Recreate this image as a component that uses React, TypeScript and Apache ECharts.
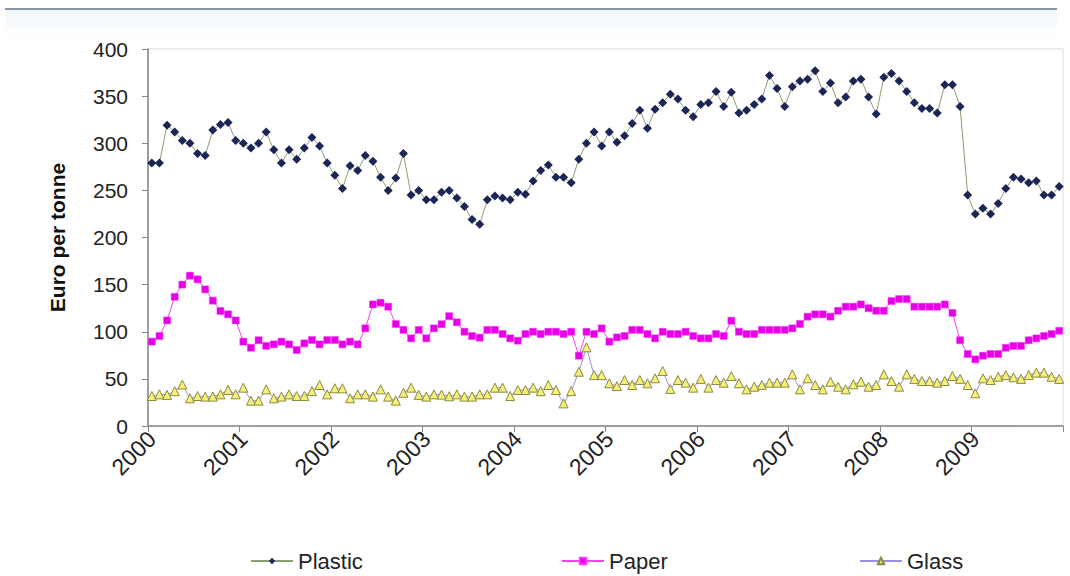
import React, { useEffect, useRef } from "react";
import * as echarts from "echarts";

const years = ["2000", "2001", "2002", "2003", "2004", "2005", "2006", "2007", "2008", "2009"];
const months = ["01", "02", "03", "04", "05", "06", "07", "08", "09", "10", "11", "12"];
const yTicks = [0, 50, 100, 150, 200, 250, 300, 350, 400];

const plastic = [
  279, 279, 319, 312, 303, 300, 289, 287, 314, 320, 322, 303,
  300, 295, 300, 312, 293, 279, 293, 283, 295, 306, 297, 279,
  266, 252, 276, 271, 287, 281, 264, 250, 263, 289, 245, 250,
  240, 240, 248, 250, 242, 233, 219, 214, 240, 244, 242, 240,
  248, 246, 260, 271, 277, 264, 264, 258, 283, 300, 312, 297,
  312, 301, 308, 321, 335, 316, 336, 343, 352, 347, 335, 328,
  341, 343, 355, 339, 354, 332, 335, 341, 347, 372, 358, 339,
  360, 366, 368, 377, 355, 364, 343, 349, 366, 368, 349, 331,
  370, 374, 366, 355, 343, 337, 337, 332, 362, 362, 339, 245,
  225, 231, 225, 236, 252, 264, 262, 258, 260, 245, 245, 254,
];

const paper = [
  89.5, 95.5, 112, 137, 150, 159.5, 155.6, 145, 133, 122, 118.5, 112,
  89.5, 83, 91, 85, 86.6, 89.5, 86.6, 80.6, 87.7, 91.2, 86.6, 91.2,
  91.2, 86.6, 89.5, 86.6, 103.6, 129, 130.8, 126.6, 108.2, 102, 93, 102,
  93, 103.6, 108, 116.5, 110, 100, 95.5, 93.7, 102, 102, 97.6, 93,
  90.5, 97.6, 100, 97.6, 100, 100, 97.6, 100, 74.6, 100, 97.6, 103.6,
  89.5, 94, 95.5, 102, 102, 97.6, 93, 100, 97.6, 97.6, 100, 95.5,
  93, 93, 97.6, 95.5, 111.7, 100, 97.6, 97.6, 102, 102, 102, 102,
  103.6, 108.2, 116, 118.5, 118.5, 116, 122.3, 126.6, 126.6, 129, 125, 122.3,
  122.3, 132.6, 134.7, 134.7, 126.6, 126.6, 126.6, 126.6, 129, 120, 91, 76.4,
  70.7, 74.6, 76.4, 76.4, 83, 85, 85, 91, 93, 95.5, 97.6, 101,
];

const glass = [
  31.8, 33.6, 33, 37, 44, 29.4, 31.8, 31.2, 31.2, 33.6, 38.2, 33.6,
  40.7, 26.9, 26.9, 38.9, 29.4, 31.2, 33.6, 31.8, 31.8, 37, 43.5, 33.6,
  40, 40, 29.4, 33.6, 33.6, 31.2, 38.9, 31.2, 26.9, 35.3, 40.7, 33,
  31.2, 33.6, 33.3, 31.5, 33.6, 31.2, 31.2, 33.6, 33.6, 40.7, 40.7, 31.8,
  38.2, 38.2, 40.7, 37, 43.5, 38.2, 24, 37, 57.6, 83.5, 54, 54,
  45.3, 42.4, 48.8, 43.5, 48.8, 45.3, 50.6, 58.4, 39.3, 48.8, 46, 40.7,
  50, 40.7, 48.8, 46, 53, 45.3, 38.9, 41.7, 43.5, 46, 46, 46,
  54.8, 38.9, 50.6, 43.5, 38.9, 47, 41.7, 38.9, 44.2, 47, 41.7, 43.5,
  54.8, 47.7, 41.7, 54.8, 50, 47.7, 47.7, 46, 47.7, 53, 50, 43.5,
  34.7, 50.6, 48.8, 52.3, 54, 51.7, 50, 54, 56.6, 56.6, 52.3, 50,
];

const categories = years.flatMap((y) => months.map((m) => `${y}-${m}`));

const FONT = "'Liberation Sans', Arial, sans-serif";

export default function App() {
  const ref = useRef<HTMLDivElement>(null);
  useEffect(() => {
    if (!ref.current) return;
    const chart = echarts.init(ref.current, null, { renderer: "svg" });
    const legendBase = {
      top: 550,
      padding: 0,
      itemWidth: 42,
      itemHeight: 8,
      textStyle: { fontSize: 22, color: "#222", fontFamily: FONT },
      orient: "horizontal",
    };
    chart.setOption({
      animation: false,
      backgroundColor: "#ffffff",
      textStyle: { fontFamily: FONT },
      graphic: [
        {
          type: "rect",
          shape: { x: 5, y: 10, width: 1052, height: 30 },
          style: {
            fill: new echarts.graphic.LinearGradient(0, 0, 0, 1, [
              { offset: 0, color: "#f1f7fb" },
              { offset: 1, color: "#ffffff" },
            ]),
          },
          z: -1,
        },
        {
          type: "line",
          shape: { x1: 5, y1: 9, x2: 1057, y2: 9 },
          style: { stroke: "#8a96a3", lineWidth: 2 },
        },
      ],
      grid: {
        left: 148,
        right: 7,
        top: 49,
        bottom: 150,
        show: true,
        borderColor: "#d9d9d9",
        borderWidth: 1,
        backgroundColor: "transparent",
      },
      legend: [
        { ...legendBase, left: 250, data: ["Plastic"] },
        { ...legendBase, left: 561, data: ["Paper"] },
        { ...legendBase, left: 859, data: ["Glass"] },
      ],
      xAxis: {
        type: "category",
        data: categories,
        boundaryGap: true,
        axisLine: { lineStyle: { color: "#868686", width: 1.5 } },
        axisTick: { show: true, interval: 11, length: 6, lineStyle: { color: "#868686" } },
        axisLabel: {
          interval: 11,
          rotate: 45,
          margin: 9,
          fontSize: 23,
          color: "#222",
          fontFamily: FONT,
          formatter: (v: string) => v.slice(0, 4),
        },
        splitLine: { show: false },
      },
      yAxis: {
        type: "value",
        min: yTicks[0],
        max: yTicks[yTicks.length - 1],
        interval: 50,
        name: "Euro per tonne",
        nameLocation: "middle",
        nameGap: 80,
        nameRotate: 90,
        nameTextStyle: { fontSize: 21, fontWeight: "bold", color: "#111", fontFamily: FONT },
        axisLine: { show: true, lineStyle: { color: "#868686", width: 1.5 } },
        axisTick: { show: true, length: 6, lineStyle: { color: "#868686" } },
        axisLabel: { fontSize: 21, color: "#222", margin: 20, fontFamily: FONT },
        splitLine: { show: false },
      },
      series: [
        {
          name: "Plastic",
          type: "line",
          data: plastic,
          symbol: "diamond",
          symbolSize: 9,
          showAllSymbol: true,
          lineStyle: { color: "#8d9d72", width: 1 },
          itemStyle: { color: "#1c2656", borderColor: "#1c2656", borderWidth: 0 },
          z: 3,
        },
        {
          name: "Paper",
          type: "line",
          data: paper,
          symbol: "rect",
          symbolSize: 7,
          showAllSymbol: true,
          lineStyle: { color: "#ee44ee", width: 1 },
          itemStyle: { color: "#e600e6", borderColor: "#ff33ff", borderWidth: 0.5 },
          z: 2,
        },
        {
          name: "Glass",
          type: "line",
          data: glass,
          symbol: "triangle",
          symbolSize: 9,
          showAllSymbol: true,
          lineStyle: { color: "#9a8fe0", width: 1 },
          itemStyle: { color: "#f5f07a", borderColor: "#8c8a40", borderWidth: 1 },
          z: 1,
        },
      ],
    });
    return () => chart.dispose();
  }, []);
  return (
    <div
      ref={ref}
      style={{ position: "absolute", left: 0, top: 0, width: 1070, height: 576 }}
    />
  );
}
